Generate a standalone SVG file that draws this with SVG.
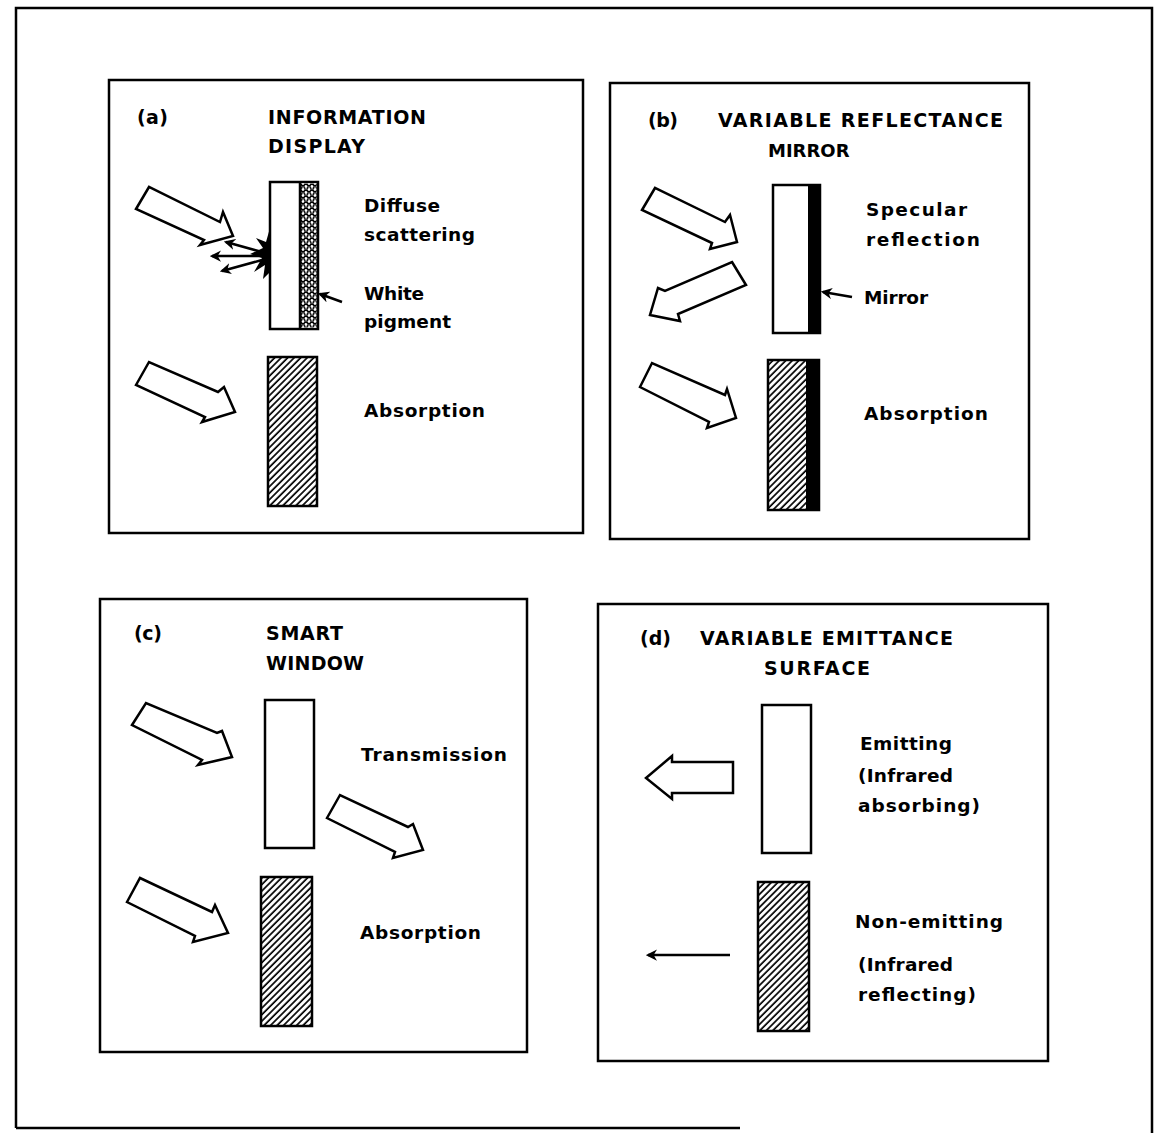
<svg xmlns="http://www.w3.org/2000/svg" width="1156" height="1133" viewBox="0 0 1156 1133">
<style>
.frame{fill:none;stroke:#000;stroke-width:2.5}
.el{stroke:#000;stroke-width:2.5}
.big{fill:#fff;stroke:#000;stroke-width:2.5;stroke-linejoin:miter}
.t{font-family:"DejaVu Sans","Liberation Sans",Arial,sans-serif;font-weight:bold;font-size:18.5px;fill:#000}
.h{font-size:19px}
.thin{stroke:#000;stroke-width:2.5;fill:none}
</style>
<defs>
<pattern id="hatch" patternUnits="userSpaceOnUse" width="4.6" height="4.6" patternTransform="rotate(45)">
<rect width="4.6" height="4.6" fill="#fff"/>
<line x1="1" y1="0" x2="1" y2="4.6" stroke="#000" stroke-width="1.7"/>
</pattern>
<pattern id="dots" patternUnits="userSpaceOnUse" width="6" height="6" x="300" y="182">
<rect width="6" height="6" fill="#fff"/>
<circle cx="3" cy="1.5" r="2.1" fill="#fff" stroke="#000" stroke-width="1.3"/>
<circle cx="0" cy="4.5" r="2.1" fill="#fff" stroke="#000" stroke-width="1.3"/>
<circle cx="6" cy="4.5" r="2.1" fill="#fff" stroke="#000" stroke-width="1.3"/>
</pattern>
<marker id="ah" viewBox="0 0 10 10" refX="8" refY="5" markerWidth="4.5" markerHeight="4.5" orient="auto">
<path d="M10,5 L0,0 L3,5 L0,10 Z" fill="#000"/>
</marker>
</defs>
<rect width="1156" height="1133" fill="#fff"/>
<g id="outer-frame">
<path class="frame" d="M16,1128 L16,8 L1152,8 L1152,1133"/>
<line class="frame" x1="16" y1="1128" x2="740" y2="1128"/>
</g>

<g id="panel-a">
<rect class="frame" x="109" y="80" width="474" height="453"/>
<text class="t h" x="137" y="124" textLength="31" lengthAdjust="spacing">(a)</text>
<text class="t h" x="268" y="124" textLength="158" lengthAdjust="spacing">INFORMATION</text>
<text class="t h" x="268" y="153" textLength="97" lengthAdjust="spacing">DISPLAY</text>
</g>
<g id="a-display">
<rect class="el" x="270" y="182" width="48" height="147" fill="#fff"/>
<rect x="300" y="183.5" width="16.8" height="144" fill="url(#dots)"/>
<line class="thin" x1="300" y1="182" x2="300" y2="329" stroke-width="0.8"/>
</g>
<g id="a-scatter">
<polygon points="270,228 266,242 256,238 263,248 250,254 262,258 254,272 265,265 263,279 270,272" fill="#000"/>
</g>
<g id="a-absorber">
<rect class="el" x="268" y="357" width="49" height="149" fill="url(#hatch)"/>
</g>
<g id="a-labels">
<text class="t" x="364" y="212" textLength="76" lengthAdjust="spacing">Diffuse</text>
<text class="t" x="364" y="241" textLength="111" lengthAdjust="spacing">scattering</text>
<text class="t" x="364" y="300" textLength="60" lengthAdjust="spacing">White</text>
<text class="t" x="364" y="328" textLength="87" lengthAdjust="spacing">pigment</text>
<text class="t" x="364" y="417" textLength="121" lengthAdjust="spacing">Absorption</text>
</g>

<g id="panel-b">
<rect class="frame" x="610" y="83" width="419" height="456"/>
<text class="t h" x="648" y="127" textLength="30" lengthAdjust="spacing">(b)</text>
<text class="t h" x="718" y="127" textLength="285" lengthAdjust="spacing">VARIABLE REFLECTANCE</text>
<text class="t" x="768" y="157" style="font-size:18px">MIRROR</text>
</g>
<g id="b-mirror">
<rect class="el" x="773" y="185" width="47" height="148" fill="#fff"/>
<rect x="808" y="185" width="12" height="148" fill="#000"/>
</g>
<g id="b-absorber">
<rect class="el" x="768" y="360" width="51" height="150" fill="url(#hatch)"/>
<rect x="806" y="360" width="13" height="150" fill="#000"/>
</g>
<g id="b-labels">
<text class="t" x="866" y="216" textLength="101" lengthAdjust="spacing">Specular</text>
<text class="t" x="866" y="246" textLength="114" lengthAdjust="spacing">reflection</text>
<text class="t" x="864" y="304" textLength="64" lengthAdjust="spacing">Mirror</text>
<text class="t" x="864" y="420" textLength="124" lengthAdjust="spacing">Absorption</text>
</g>

<g id="panel-c">
<rect class="frame" x="100" y="599" width="427" height="453"/>
<text class="t h" x="134" y="640" textLength="28" lengthAdjust="spacing">(c)</text>
<text class="t h" x="266" y="640" textLength="77" lengthAdjust="spacing">SMART</text>
<text class="t h" x="266" y="670" textLength="98" lengthAdjust="spacing">WINDOW</text>
</g>
<g id="c-window">
<rect class="el" x="265" y="700" width="49" height="148" fill="#fff"/>
</g>
<g id="c-absorber">
<rect class="el" x="261" y="877" width="51" height="149" fill="url(#hatch)"/>
</g>
<g id="c-labels">
<text class="t" x="361" y="761" textLength="146" lengthAdjust="spacing">Transmission</text>
<text class="t" x="360" y="939" textLength="121" lengthAdjust="spacing">Absorption</text>
</g>

<g id="panel-d">
<rect class="frame" x="598" y="604" width="450" height="457"/>
<text class="t h" x="640" y="645" textLength="31" lengthAdjust="spacing">(d)</text>
<text class="t h" x="700" y="645" textLength="253" lengthAdjust="spacing">VARIABLE EMITTANCE</text>
<text class="t h" x="764" y="675" textLength="106" lengthAdjust="spacing">SURFACE</text>
</g>
<g id="d-emitter">
<rect class="el" x="762" y="705" width="49" height="148" fill="#fff"/>
</g>
<g id="d-nonemitter">
<rect class="el" x="758" y="882" width="51" height="149" fill="url(#hatch)"/>
</g>
<g id="d-labels">
<text class="t" x="860" y="750" textLength="92" lengthAdjust="spacing">Emitting</text>
<text class="t" x="858" y="782" textLength="95" lengthAdjust="spacing">(Infrared</text>
<text class="t" x="858" y="812" textLength="122" lengthAdjust="spacing">absorbing)</text>
<text class="t" x="855" y="928" textLength="148" lengthAdjust="spacing">Non-emitting</text>
<text class="t" x="858" y="971" textLength="95" lengthAdjust="spacing">(Infrared</text>
<text class="t" x="858" y="1001" textLength="118" lengthAdjust="spacing">reflecting)</text>
</g>

<g id="connectors">
<polygon class="big" points="136,209 149,187 220,222 223,212 233,236 200,245 204,240"/>
<line class="thin" x1="262" y1="252" x2="226" y2="242" stroke-width="2.2" marker-end="url(#ah)"/>
<line class="thin" x1="262" y1="256" x2="212" y2="256" stroke-width="2.2" marker-end="url(#ah)"/>
<line class="thin" x1="262" y1="260" x2="222" y2="271" stroke-width="2.2" marker-end="url(#ah)"/>
<line class="thin" x1="342" y1="302" x2="320" y2="294" stroke-width="2.2" marker-end="url(#ah)"/>
<polygon class="big" points="136,385 149,362 218,392 224,387 235,412 202,422 205,417"/>
<polygon class="big" points="642,210 655,188 725,222 730,215 737,242 710,249 712,243"/>
<polygon class="big" points="732,262 746,285 678,314 680,321 650,315 658,288 665,291"/>
<line class="thin" x1="852" y1="297" x2="823" y2="292" stroke-width="2.2" marker-end="url(#ah)"/>
<polygon class="big" points="640,387 652,363 725,395 727,389 736,418 707,428 709,422"/>
<polygon class="big" points="132,725 146,703 217,733 222,731 232,757 198,765 202,760"/>
<polygon class="big" points="327,818 340,795 408,827 413,824 423,850 393,858 395,852"/>
<polygon class="big" points="127,902 140,878 212,912 215,905 228,933 193,942 195,936"/>
<polygon class="big" points="733,762 672,762 672,756 646,778 672,799 672,793 733,793"/>
<line class="thin" x1="730" y1="955" x2="648" y2="955" stroke-width="2.2" marker-end="url(#ah)"/>
</g>
</svg>
